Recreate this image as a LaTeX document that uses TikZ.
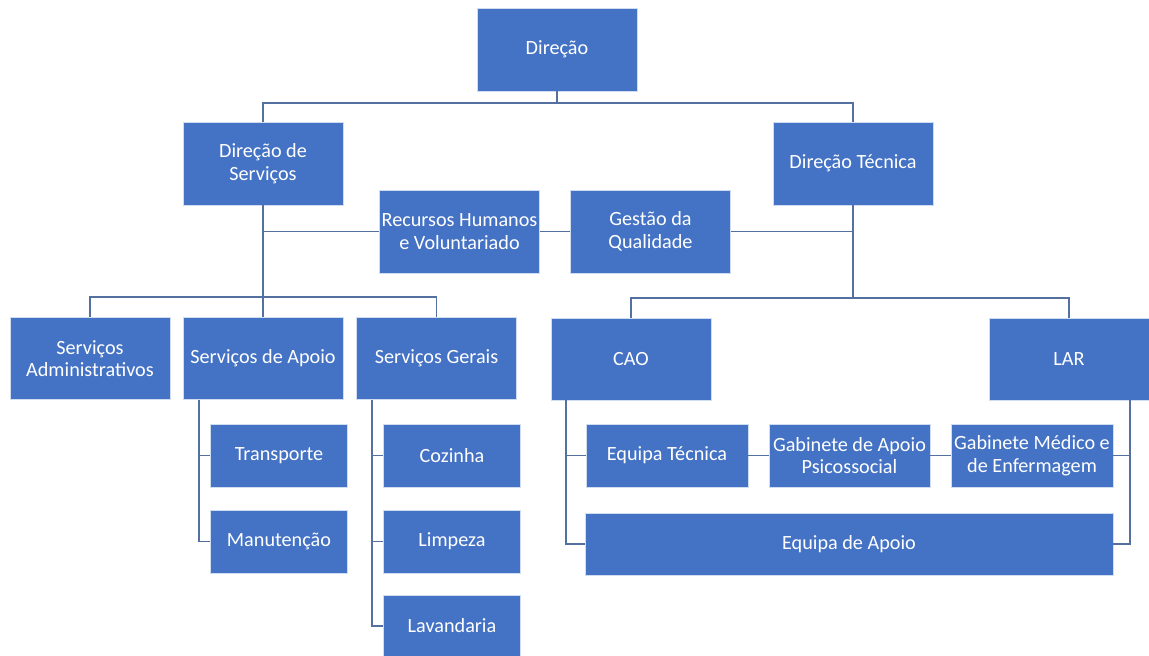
\documentclass[tikz,border=0pt]{standalone}
\usepackage{fontspec}
\setmainfont{Carlito}
\definecolor{boxblue}{RGB}{68,114,196}
\definecolor{linecol}{RGB}{84,112,160}
\begin{document}
\begin{tikzpicture}[x=1pt,y=-1pt,
  box/.style={fill=boxblue, draw=white!75!boxblue, line width=0.8pt, text=white,
    font=\fontsize{20.2}{22.5}\selectfont, align=center, inner sep=0pt},
  big/.style={box, minimum width=160pt, minimum height=83pt},
  mid/.style={box, minimum width=160pt, minimum height=82pt},
  small/.style={box, minimum width=137pt, minimum height=63pt},
  conn/.style={draw=linecol, line width=1.8pt}]
\useasboundingbox (0,0) rectangle (1149,656);
% nodes
\node[big] (dir) at (557,49.5) {Direção};
\node[big] (ds) at (263,163.5) {Direção de\\Serviços};
\node[big] (dt) at (853,163.5) {Direção Técnica};
\node[big] (rh) at (459.5,231.5) {Recursos Humanos\\e Voluntariado};
\node[big] (gq) at (650.5,231.5) {Gestão da\\Qualidade};
\node[mid] (sa) at (90,358.5) {Serviços\\Administrativos};
\node[mid] (sap) at (263,358.5) {Serviços de Apoio};
\node[mid] (sg) at (436.5,358.5) {Serviços Gerais};
\node[mid] (cao) at (631,359) {CAO};
\node[mid] (lar) at (1069,359) {LAR};
\node[small] (tr) at (279,455.5) {Transporte};
\node[small] (ma) at (279,541.5) {Manutenção};
\node[small] (co) at (452,455.5) {Cozinha};
\node[small] (li) at (452,541.5) {Limpeza};
\node[small, minimum height=62pt] (la) at (452,626) {Lavandaria};
\node[small, minimum width=162pt] (et) at (667,455.5) {Equipa Técnica};
\node[small, minimum width=161pt] (gap) at (849.5,455.5) {Gabinete de Apoio\\Psicossocial};
\node[small, minimum width=162pt] (gm) at (1032,455.5) {Gabinete Médico e\\de Enfermagem};
\node[small, minimum width=528pt, minimum height=62pt] (ea) at (849,544) {Equipa de Apoio};
% connectors
\coordinate (j1) at (557,103);
\path[conn] (dir.south) -- (j1);
\path[conn] (ds.north) -- ++(0,-19) -| (dt.north);
\path[conn] (ds.south) -- (sap.north);
\path[conn] (ds.south |- rh.west) -- (rh.west);
\path[conn] (rh.east) -- (gq.west);
\path[conn] (gq.east) -- (dt.south |- gq.east);
\path[conn] (sa.north) -- ++(0,-20) -| (sg.north);
\path[conn] (dt.south) -- ++(0,93);
\path[conn] (cao.north) -- ++(0,-20) -| (lar.north);
% Serviços de Apoio
\coordinate (a1) at (199,400);
\path[conn] (a1) |- (ma.west);
\path[conn] (a1 |- tr.west) -- (tr.west);
% Serviços Gerais
\coordinate (g1) at (372,400);
\path[conn] (g1) |- (la.west);
\path[conn] (g1 |- co.west) -- (co.west);
\path[conn] (g1 |- li.west) -- (li.west);
% CAO
\coordinate (c1) at (566,400);
\path[conn] (c1) |- (ea.west);
\path[conn] (c1 |- et.west) -- (et.west);
% LAR
\coordinate (l1) at (1130,400);
\path[conn] (l1) |- (ea.east);
\path[conn] (l1 |- gm.east) -- (gm.east);
\path[conn] (et.east) -- (gap.west);
\path[conn] (gap.east) -- (gm.west);
\end{tikzpicture}
\end{document}
